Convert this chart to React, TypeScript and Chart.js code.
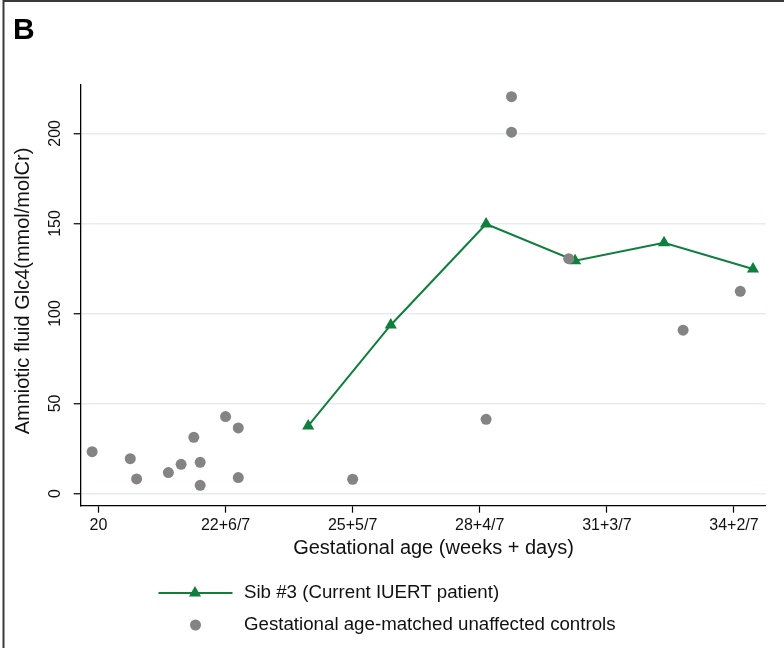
import React, { useEffect, useRef } from 'react';
import { Chart, registerables } from 'chart.js';

Chart.register(...registerables);

// x axis: gestational age in days (ticks every 20 days)
const tickDays = [140, 160, 180, 200, 220, 240];
const tickLabels = ['20', '22+6/7', '25+5/7', '28+4/7', '31+3/7', '34+2/7'];
const yTicks = [0, 50, 100, 150, 200];

// Sib #3 (Current IUERT patient)
const sibDays = [173, 186, 201, 215, 229, 243];
const sibValues = [37.5, 93.6, 149.7, 129.3, 139.3, 124.7];

// Gestational age-matched unaffected controls
const controlDays = [139, 145, 146, 151, 153, 155, 156, 156, 160, 162, 162, 180, 201, 205, 205, 214, 232, 241];
const controlValues = [23.2, 19.3, 8.1, 11.6, 16.2, 31.2, 17.3, 4.5, 42.7, 36.4, 8.8, 7.9, 41.2, 220.4, 200.7, 130.4, 90.7, 112.3];

const sibLabel = 'Sib #3 (Current IUERT patient)';
const controlLabel = 'Gestational age-matched unaffected controls';
const xTitle = 'Gestational age (weeks + days)';
const yTitle = 'Amniotic fluid Glc4(mmol/molCr)';

const GREEN = '#0f7f3e';
const GRAY = '#848484';
const FONT = '"Liberation Sans", Arial, sans-serif';

const decorPlugin = {
  id: 'decor',
  afterDraw(chart: any) {
    const ctx = chart.ctx as CanvasRenderingContext2D;
    ctx.save();
    // frame
    ctx.strokeStyle = '#3a3a3a';
    ctx.lineWidth = 2;
    ctx.beginPath();
    ctx.moveTo(3.5, 648);
    ctx.lineTo(3.5, 1);
    ctx.lineTo(784, 1);
    ctx.stroke();
    // panel letter
    ctx.fillStyle = '#000';
    ctx.font = `bold 30px ${FONT}`;
    ctx.textBaseline = 'alphabetic';
    ctx.textAlign = 'left';
    ctx.fillText('B', 13, 39);

    // axis titles
    ctx.fillStyle = '#111';
    ctx.font = `20px ${FONT}`;
    ctx.textAlign = 'center';
    ctx.textBaseline = 'middle';
    ctx.fillText(xTitle, 433.5, 548);
    ctx.save();
    ctx.translate(23, 291);
    ctx.rotate(-Math.PI / 2);
    ctx.fillText(yTitle, 0, 0);
    ctx.restore();

    // legend
    ctx.textAlign = 'left';
    const ds0 = chart.data.datasets[1];
    const ds1 = chart.data.datasets[0];
    const y1 = 593;
    const y2 = 625;
    ctx.strokeStyle = ds0.borderColor;
    ctx.lineWidth = 2;
    ctx.beginPath();
    ctx.moveTo(158.5, y1);
    ctx.lineTo(232.5, y1);
    ctx.stroke();
    const r = 7;
    const cx = 195;
    ctx.fillStyle = ds0.pointBackgroundColor;
    ctx.beginPath();
    ctx.moveTo(cx, y1 - r);
    ctx.lineTo(cx + Math.sin(Math.PI / 3) * r, y1 + 0.5 * r);
    ctx.lineTo(cx - Math.sin(Math.PI / 3) * r, y1 + 0.5 * r);
    ctx.closePath();
    ctx.fill();
    ctx.fillStyle = ds1.backgroundColor;
    ctx.beginPath();
    ctx.arc(195.5, y2, 5.5, 0, Math.PI * 2);
    ctx.fill();
    ctx.fillStyle = '#111';
    ctx.font = `18.7px ${FONT}`;
    ctx.textBaseline = 'middle';
    ctx.fillText(ds0.label, 244, y1);
    ctx.fillText(ds1.label, 244, y2);
    ctx.restore();
  },
};

export default function App() {
  const ref = useRef<HTMLCanvasElement | null>(null);
  useEffect(() => {
    document.body.style.margin = '0';
    const canvas = ref.current;
    if (!canvas) return;
    const chart = new Chart(canvas, {
      type: 'scatter',
      data: {
        datasets: [
          {
            label: controlLabel,
            data: controlDays.map((d, i) => ({ x: d, y: controlValues[i] })),
            backgroundColor: GRAY,
            borderColor: GRAY,
            pointRadius: 5.5,
            pointBorderWidth: 0,
            pointStyle: 'circle',
            showLine: false,
          },
          {
            label: sibLabel,
            data: sibDays.map((d, i) => ({ x: d, y: sibValues[i] })),
            borderColor: GREEN,
            backgroundColor: GREEN,
            pointBackgroundColor: GREEN,
            pointBorderColor: GREEN,
            pointBorderWidth: 0,
            pointRadius: 7,
            pointStyle: 'triangle',
            borderWidth: 2,
            showLine: true,
          },
        ],
      },
      options: {
        responsive: false,
        animation: false,
        devicePixelRatio: 1,
        layout: { padding: { left: 0, top: 85, right: 18.3, bottom: 82.3 } },
        plugins: { legend: { display: false }, tooltip: { enabled: false } },
        scales: {
          x: {
            type: 'linear',
            min: 137.2,
            max: 245,
            afterBuildTicks: (s: any) => {
              s.ticks = tickDays.map((v) => ({ value: v }));
            },
            afterFit: (s: any) => {
              s.height = 60;
            },
            grid: { drawOnChartArea: false, tickLength: 7, tickColor: '#000', tickWidth: 1.2 },
            border: { color: '#000', width: 1.3 },
            ticks: {
              padding: 3,
              color: '#111',
              font: { family: FONT, size: 16 },
              maxRotation: 0,
              minRotation: 0,
              callback: (v: any) => {
                const i = tickDays.indexOf(Number(v));
                return i >= 0 ? tickLabels[i] : '';
              },
            },
            title: { display: false },
          },
          y: {
            type: 'linear',
            min: -6.8,
            max: 226.9,
            afterBuildTicks: (s: any) => {
              s.ticks = yTicks.map((v) => ({ value: v }));
            },
            afterFit: (s: any) => {
              s.width = 80.7;
            },
            grid: { color: '#e4eef0', lineWidth: 1.5, tickLength: 7, tickColor: '#000', tickWidth: 1.2 },
            border: { color: '#000', width: 1.3 },
            ticks: {
              padding: 5,
              color: '#111',
              crossAlign: 'center',
              minRotation: 90,
              maxRotation: 90,
              font: { family: FONT, size: 16 },
            },
            title: { display: false },
          },
        },
      },
      plugins: [decorPlugin],
    } as any);
    return () => chart.destroy();
  }, []);
  return <canvas ref={ref} width={784} height={648} style={{ display: 'block', width: 784, height: 648 }} />;
}
